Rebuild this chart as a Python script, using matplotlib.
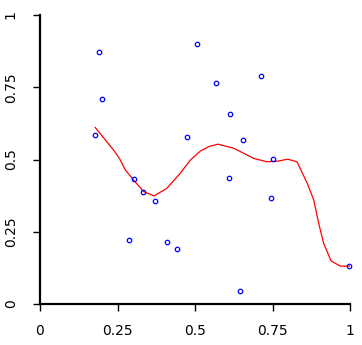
import matplotlib
matplotlib.use("Agg")
import matplotlib.pyplot as plt

pts_x = [0.178, 0.191, 0.200, 0.288, 0.304, 0.332, 0.372, 0.410, 0.443, 0.475,
         0.507, 0.568, 0.611, 0.613, 0.646, 0.655, 0.713, 0.745, 0.753, 0.998]
pts_y = [0.585, 0.872, 0.709, 0.221, 0.433, 0.388, 0.356, 0.215, 0.190, 0.578,
         0.900, 0.765, 0.436, 0.657, 0.045, 0.567, 0.789, 0.367, 0.502, 0.131]

# smoothed fit (red line)
fit_x = [0.178, 0.237, 0.256, 0.275, 0.302, 0.334, 0.368, 0.409, 0.452, 0.485,
         0.517, 0.545, 0.574, 0.625, 0.689, 0.732, 0.765, 0.799, 0.829, 0.862,
         0.883, 0.899, 0.915, 0.939, 0.969, 0.998]
fit_y = [0.611, 0.533, 0.504, 0.464, 0.429, 0.389, 0.374, 0.400, 0.452, 0.498,
         0.529, 0.545, 0.553, 0.539, 0.504, 0.492, 0.494, 0.501, 0.492, 0.418,
         0.360, 0.279, 0.210, 0.149, 0.131, 0.131]

ticks = [0, 0.25, 0.5, 0.75, 1]
tick_labels = ["0", "0.25", "0.5", "0.75", "1"]

fig = plt.figure(figsize=(3.62, 3.45), dpi=100)
ax = fig.add_axes([40 / 362, 41 / 345, 310 / 362, 289 / 345])

ax.plot(fit_x, fit_y, color="red", linewidth=0.9, clip_on=False)
ax.plot(pts_x, pts_y, linestyle="none", marker="o", markersize=3.2,
        markerfacecolor="none", markeredgecolor="blue", markeredgewidth=0.9,
        clip_on=False)

ax.set_xlim(0, 1)
ax.set_ylim(0, 1)
ax.set_xticks(ticks)
ax.set_xticklabels(tick_labels)
ax.set_yticks(ticks)
ax.set_yticklabels(tick_labels, rotation=90, va="center")

for side in ["top", "right"]:
    ax.spines[side].set_visible(False)
for side in ["left", "bottom"]:
    ax.spines[side].set_linewidth(1.6)
ax.tick_params(direction="out", length=5, width=1, labelsize=10)
ax.tick_params(axis="x", pad=9.5)
ax.tick_params(axis="y", pad=11)

plt.savefig("out.png", dpi=100)
